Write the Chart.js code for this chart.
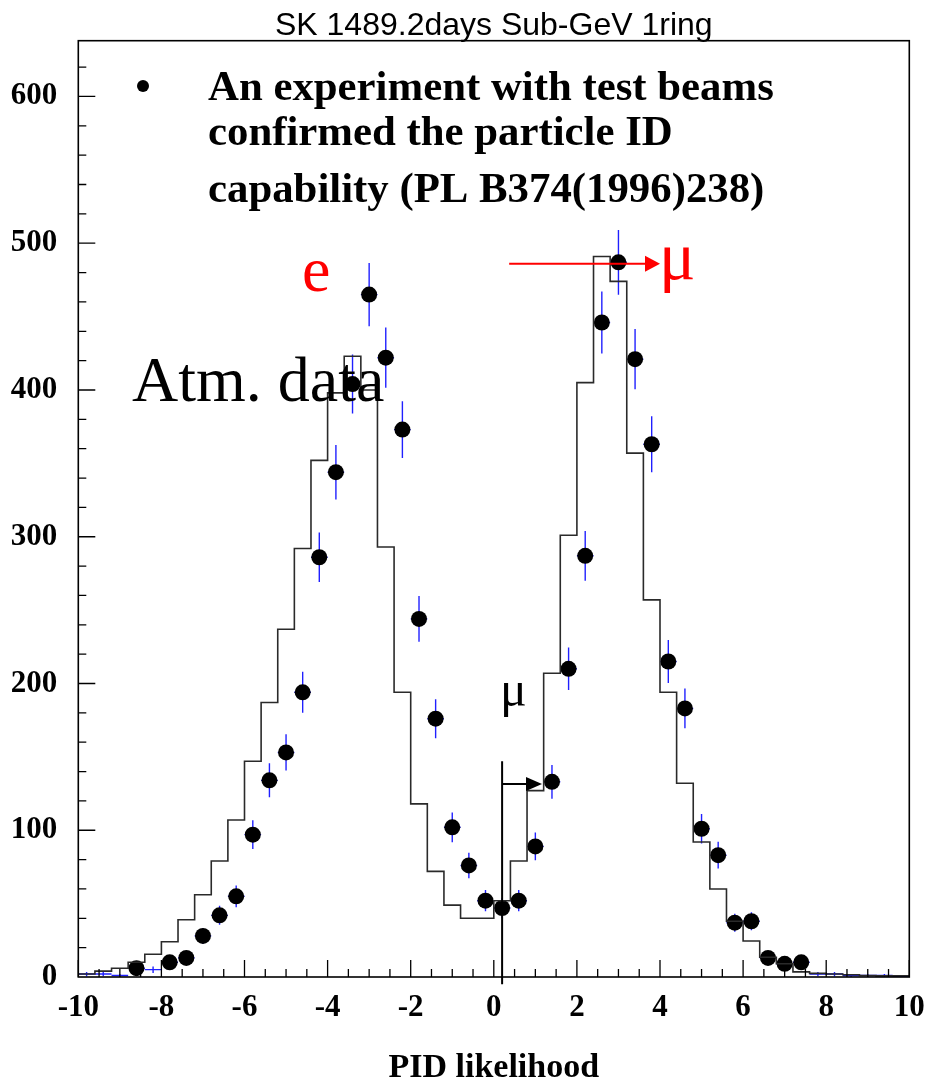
<!DOCTYPE html>
<html>
<head>
<meta charset="utf-8">
<script src="https://cdn.jsdelivr.net/npm/chart.js@4.4.0/dist/chart.umd.min.js"></script>
<style>
  html, body { margin: 0; padding: 0; background: #fff; }
  #wrap { width: 926px; height: 1084px; }
</style>
</head>
<body>
<div id="wrap"><canvas id="myChart" width="926" height="1084"></canvas></div>
<script>
// bin centres of the PID likelihood histogram (bin width 0.4)
const binCenters = [-9.8, -9.4, -9.0, -8.6, -8.2, -7.8, -7.4, -7.0, -6.6, -6.2,
  -5.8, -5.4, -5.0, -4.6, -4.2, -3.8, -3.4, -3.0, -2.6, -2.2,
  -1.8, -1.4, -1.0, -0.6, -0.2, 0.2, 0.6, 1.0, 1.4, 1.8,
  2.2, 2.6, 3.0, 3.4, 3.8, 4.2, 4.6, 5.0, 5.4, 5.8,
  6.2, 6.6, 7.0, 7.4, 7.8, 8.2, 8.6, 9.0, 9.4, 9.8];

// atmospheric data (points)
const dataCounts = [2, 2, 1, 6, 5, 10, 13, 28, 42, 55,
  97, 134, 153, 194, 286, 344, 404, 465, 422, 373,
  244, 176, 102, 76, 52, 47, 52, 89, 133, 210,
  287, 446, 487, 421, 363, 215, 183, 101, 83, 37,
  38, 13, 9, 10, 2, 2, 1, 1, 1, 0.5];

// Monte Carlo expectation (histogram)
const mcCounts = [2, 2, 4, 6, 10, 15.5, 24, 39, 56, 79,
  107, 147, 187, 237, 292, 352, 398, 423, 400, 293,
  194, 118, 72, 49, 40, 40, 52, 79, 127, 207,
  301, 405, 491, 474, 357, 257, 194, 132, 92, 60,
  38, 24.5, 13.5, 9, 3.5, 2.5, 2, 1.5, 1, 0.8];

const xTickValues = [-10, -8, -6, -4, -2, 0, 2, 4, 6, 8, 10];
const yTickValues = [0, 100, 200, 300, 400, 500, 600];

const binHalf = 0.2;
const cutValue = 0.2;

const serif = '"Liberation Serif", "Times New Roman", serif';
const sans = '"Liberation Sans", Arial, sans-serif';

// step histogram points at the left bin edges, plus the closing edge
const mcSteps = binCenters.map((c, i) => ({ x: c - binHalf, y: mcCounts[i] }));
mcSteps.push({ x: binCenters[binCenters.length - 1] + binHalf, y: mcCounts[mcCounts.length - 1] });

const dataPoints = binCenters.map((c, i) => ({ x: c, y: dataCounts[i] }));

const errorBars = {
  id: 'errorBars',
  beforeDatasetDraw(chart, args) {
    if (args.index !== 1) return;
    const { ctx, chartArea, scales: { x, y } } = chart;
    ctx.save();
    ctx.beginPath();
    ctx.rect(chartArea.left, chartArea.top, chartArea.width, chartArea.height);
    ctx.clip();
    ctx.strokeStyle = '#2020ff';
    ctx.lineWidth = 1.4;
    binCenters.forEach((c, i) => {
      const n = dataCounts[i];
      const err = Math.sqrt(n);
      const px = x.getPixelForValue(c);
      const py = y.getPixelForValue(n);
      ctx.beginPath();
      ctx.moveTo(px, y.getPixelForValue(n - err));
      ctx.lineTo(px, y.getPixelForValue(n + err));
      ctx.moveTo(x.getPixelForValue(c - binHalf), py);
      ctx.lineTo(x.getPixelForValue(c + binHalf), py);
      ctx.stroke();
    });
    ctx.restore();
  }
};

const frameAndTicks = {
  id: 'frameAndTicks',
  afterDatasetsDraw(chart) {
    const { ctx, chartArea: a, scales: { x, y } } = chart;
    ctx.save();
    ctx.strokeStyle = '#000';
    ctx.lineWidth = 1.3;
    ctx.beginPath();
    for (let v = -10; v <= 10.001; v += 0.5) {
      const px = x.getPixelForValue(v);
      const major = Math.abs(v / 2 - Math.round(v / 2)) < 1e-6;
      ctx.moveTo(px, a.bottom);
      ctx.lineTo(px, a.bottom - (major ? 17 : 8));
    }
    for (let v = 20; v <= 620; v += 20) {
      const py = y.getPixelForValue(v);
      const major = v % 100 === 0;
      ctx.moveTo(a.left, py);
      ctx.lineTo(a.left + (major ? 17 : 8), py);
    }
    ctx.stroke();
    ctx.lineWidth = 1.6;
    ctx.strokeRect(a.left, a.top, a.width, a.height);
    ctx.restore();
  }
};

const annotations = {
  id: 'annotations',
  afterDraw(chart) {
    const { ctx, scales: { x, y } } = chart;
    ctx.save();
    ctx.textBaseline = 'alphabetic';
    ctx.textAlign = 'left';

    // bullet text
    ctx.fillStyle = '#000';
    ctx.beginPath();
    ctx.arc(143, 86, 6, 0, Math.PI * 2);
    ctx.fill();
    ctx.font = 'bold 42.8px ' + serif;
    ctx.fillText('An experiment with test beams', 208, 100);
    ctx.fillText('confirmed the particle ID', 208, 145);
    ctx.fillText('capability (PL B374(1996)238)', 208, 202);

    // Atm. data
    ctx.font = '64px ' + serif;
    ctx.fillText('Atm. data', 132, 401);

    // red e and mu with arrow
    ctx.fillStyle = '#ff0000';
    ctx.strokeStyle = '#ff0000';
    ctx.font = '64px ' + serif;
    ctx.fillText('e', 302, 291);
    ctx.font = '68px ' + serif;
    ctx.fillText('\u03bc', 659, 279);
    const ay = y.getPixelForValue(486);
    const ax0 = x.getPixelForValue(0.37);
    const ax1 = x.getPixelForValue(4.0);
    ctx.lineWidth = 2;
    ctx.beginPath();
    ctx.moveTo(ax0, ay);
    ctx.lineTo(ax1 - 12, ay);
    ctx.stroke();
    ctx.beginPath();
    ctx.moveTo(ax1, ay);
    ctx.lineTo(ax1 - 15, ay - 8);
    ctx.lineTo(ax1 - 15, ay + 8);
    ctx.closePath();
    ctx.fill();

    // cut line and black mu
    ctx.fillStyle = '#000';
    ctx.strokeStyle = '#000';
    ctx.lineWidth = 2;
    const cx = x.getPixelForValue(cutValue);
    ctx.beginPath();
    ctx.moveTo(cx, y.getPixelForValue(147));
    ctx.lineTo(cx, y.getPixelForValue(-5));
    const by = y.getPixelForValue(131.5);
    const bx1 = x.getPixelForValue(1.16);
    ctx.moveTo(cx, by);
    ctx.lineTo(bx1 - 12, by);
    ctx.stroke();
    ctx.beginPath();
    ctx.moveTo(bx1, by);
    ctx.lineTo(bx1 - 16, by - 7);
    ctx.lineTo(bx1 - 16, by + 7);
    ctx.closePath();
    ctx.fill();
    ctx.font = '50px ' + serif;
    ctx.fillText('\u03bc', 500, 706);

    ctx.restore();
  }
};

const ctx = document.getElementById('myChart').getContext('2d');
const myChart = new Chart(ctx, {
  type: 'scatter',
  data: {
    datasets: [{
      label: 'MC',
      type: 'line',
      data: mcSteps,
      stepped: 'after',
      borderColor: '#2a2a2a',
      borderWidth: 1.6,
      backgroundColor: 'transparent',
      pointRadius: 0,
      fill: false
    }, {
      label: 'Atm. data',
      data: dataPoints,
      backgroundColor: '#000',
      borderColor: '#000',
      borderWidth: 0,
      pointRadius: c => (dataCounts[c.dataIndex] > 5.5 ? 8 : 0)
    }]
  },
  options: {
    responsive: false,
    animation: false,
    devicePixelRatio: 1,
    layout: { padding: { left: 0, right: 16.7, top: 0, bottom: 0 } },
    plugins: {
      legend: { display: false },
      tooltip: { enabled: false },
      title: {
        display: true,
        fullSize: false,
        text: 'SK 1489.2days Sub-GeV 1ring',
        color: '#000',
        font: { family: sans, size: 32, weight: 'normal', lineHeight: 1 },
        padding: { top: 9.7, bottom: -1 }
      }
    },
    scales: {
      x: {
        type: 'linear',
        min: -10,
        max: 10,
        grid: { display: false, drawTicks: false },
        border: { display: false },
        afterFit: s => { s.height = 107; s.paddingLeft = 0; s.paddingRight = 0; },
        afterBuildTicks: s => { s.ticks = xTickValues.map(v => ({ value: v })); },
        ticks: {
          color: '#000',
          padding: 12,
          maxRotation: 0,
          autoSkip: false,
          font: { family: serif, size: 31, weight: 'bold' }
        },
        title: {
          display: true,
          text: 'PID likelihood',
          color: '#000',
          font: { family: serif, size: 34, weight: 'bold' },
          padding: { top: 0, bottom: -5 }
        }
      },
      y: {
        type: 'linear',
        min: 0,
        max: 638,
        grid: { display: false, drawTicks: false },
        border: { display: false },
        afterFit: s => { s.width = 78.3; s.paddingTop = 0; s.paddingBottom = 0; },
        afterBuildTicks: s => { s.ticks = yTickValues.map(v => ({ value: v })); },
        ticks: {
          color: '#000',
          padding: 21,
          autoSkip: false,
          font: { family: serif, size: 31, weight: 'bold' }
        }
      }
    }
  },
  plugins: [errorBars, frameAndTicks, annotations]
});
</script>
</body>
</html>
